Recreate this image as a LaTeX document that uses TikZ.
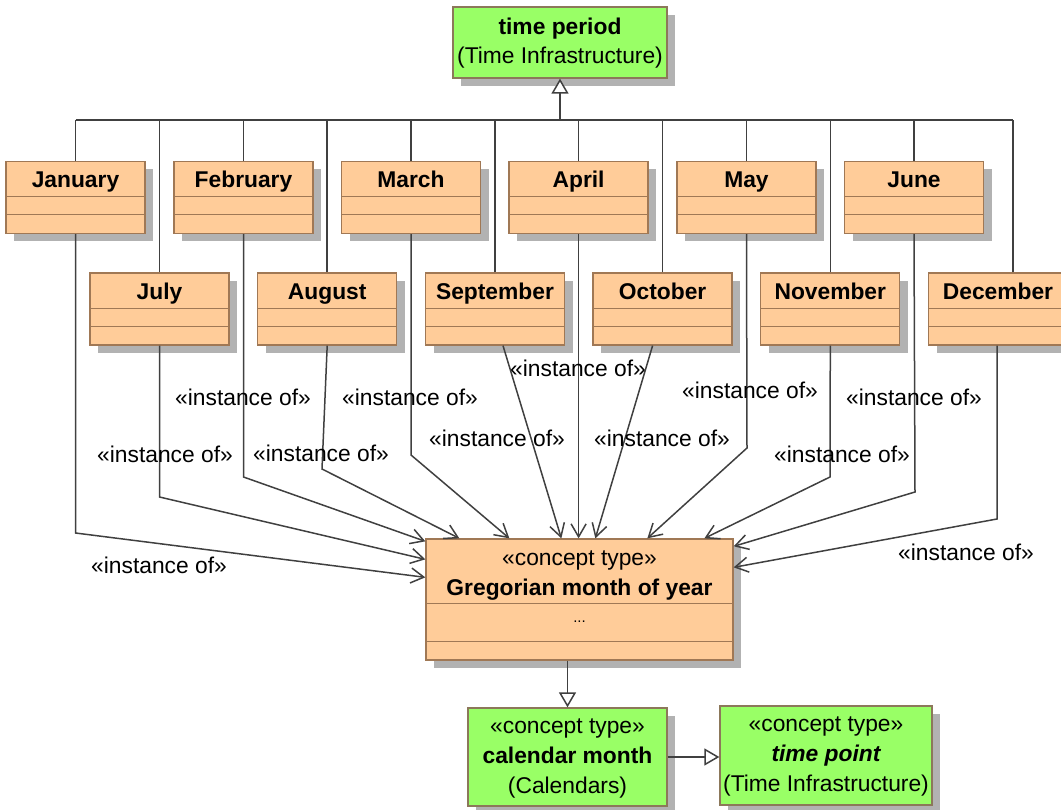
\documentclass[tikz,border=0pt]{standalone}
\usepackage{fontspec}
\setmainfont{Liberation Sans}
\usetikzlibrary{arrows.meta,shadows,calc}
\definecolor{orfill}{RGB}{255,204,153}
\definecolor{boxline}{RGB}{160,120,85}
\definecolor{grfill}{RGB}{153,255,102}
\definecolor{grline}{RGB}{140,120,90}
\definecolor{shade}{RGB}{178,178,178}
\definecolor{conn}{RGB}{64,64,64}
\tikzset{
 x=1pt,y=-1pt,
 sh/.style={drop shadow={shadow xshift=8pt,shadow yshift=-8pt,fill=shade,opacity=1}},
 monthbox/.style={draw=boxline,fill=orfill,line width=1.3pt,minimum width=139pt,minimum height=72pt,inner sep=0pt,sh},
 greenbox/.style={draw=grline,fill=grfill,line width=1.3pt,inner sep=0pt,sh},
 txt/.style={font=\fontsize{22.8pt}{27pt}\selectfont,inner sep=0pt,text height=19pt,text depth=2pt},
 btxt/.style={txt,font=\fontsize{22.8pt}{27pt}\selectfont\bfseries},
 bitxt/.style={txt,font=\fontsize{22.8pt}{27pt}\selectfont\bfseries\itshape},
 dots/.style={font=\fontsize{15pt}{18pt}\selectfont,inner sep=0pt},
 connline/.style={draw=conn,line width=1.5pt},
 inst/.style={connline,-{Straight Barb[length=13pt,width=15pt,line width=1.5pt]}},
 gen/.style={connline,-{Triangle[open,length=15pt,width=17pt,line width=1.5pt,fill=white]}},
 sepline/.style={draw=boxline,line width=1.3pt},
}
\newcommand\monthnode[4]{%
 \node[monthbox] (#1) at (#2,#3+36) {};
 \node[btxt] (#1-t) at (#2,#3+18) {#4};
 \draw[sepline] ($(#1.north west)+(0,36)$) -- ($(#1.north east)+(0,36)$);
 \draw[sepline] ($(#1.north west)+(0,54)$) -- ($(#1.north east)+(0,54)$);
}
\begin{document}
\begin{tikzpicture}
\useasboundingbox (0,0) rectangle (1061,810);
\clip (0,0) rectangle (1061,810);

% time period
\node[greenbox,minimum width=214pt,minimum height=71pt] (tp) at (560,42.5) {};
\node[btxt] (tp-a) at (560,26) {time period};
\node[txt] (tp-b) at (560,55) {(Time Infrastructure)};

% months
\monthnode{jan}{75.5}{161.5}{January}
\monthnode{feb}{243.5}{161.5}{February}
\monthnode{mar}{411}{161.5}{March}
\monthnode{apr}{578.6}{161.5}{April}
\monthnode{may}{746.5}{161.5}{May}
\monthnode{jun}{914}{161.5}{June}
\monthnode{jul}{159.5}{273}{July}
\monthnode{aug}{327.2}{273}{August}
\monthnode{sep}{495}{273}{September}
\monthnode{oct}{662.6}{273}{October}
\monthnode{nov}{830.3}{273}{November}
\monthnode{dec}{998}{273}{December}

% Gregorian month of year
\node[monthbox,minimum width=307pt,minimum height=121pt] (gmy) at (579.5,599.5) {};
\node[txt] (gmy-s) at (579.5,557) {«concept type»};
\node[btxt] (gmy-n) at (579.5,587) {Gregorian month of year};
\node[dots] (gmy-d) at (579.5,622) {...};
\draw[sepline] ($(gmy.north west)+(0,65)$) -- ($(gmy.north east)+(0,65)$);
\draw[sepline] ($(gmy.north west)+(0,103)$) -- ($(gmy.north east)+(0,103)$);

% calendar month
\node[greenbox,minimum width=199pt,minimum height=98pt] (cm) at (567.5,757) {};
\node[txt] (cm-s) at (567.5,725) {«concept type»};
\node[btxt] (cm-n) at (567.5,755) {calendar month};
\node[txt] (cm-p) at (567.5,785) {(Calendars)};

% time point
\node[greenbox,minimum width=212pt,minimum height=99pt] (tpt) at (826,755.5) {};
\node[txt] (tpt-s) at (826,723) {«concept type»};
\node[bitxt] (tpt-n) at (826,753) {time point};
\node[txt] (tpt-p) at (826,783) {(Time Infrastructure)};

% generalization tree to time period
\coordinate (bus) at (560,120);
\coordinate (decup) at ($(dec.north)+(15,0)$);
\foreach \m in {jan,feb,mar,apr,may,jun,jul,aug,sep,oct,nov}{
  \draw[connline] (\m.north) -- (\m.north |- bus);
}
\draw[connline] (decup) -- (decup |- bus);
\draw[connline] (jan.north |- bus) -- (decup |- bus);
\draw[gen] (bus) -- (tp.south);

% instance-of connectors
\draw[inst] (jan.south) -- (75.5,533) -- ($(gmy.north west)+(0,39)$);
\draw[inst] (jul.south) -- (159.5,497) -- ($(gmy.north west)+(0,21)$);
\draw[inst] (feb.south) -- (243.5,477) -- ($(gmy.north west)+(0,3)$);
\draw[inst] (aug.south) -- (322,469) -- ($(gmy.north west)+(34,0)$);
\draw[inst] (mar.south) -- (411,455) -- ($(gmy.north west)+(84,0)$);
\draw[inst] ($(sep.south)+(8,0)$) -- ($(gmy.north west)+(136,0)$);
\draw[inst] (apr.south) -- (apr.south |- gmy.north);
\draw[inst] ($(oct.south)+(-10,0)$) -- ($(gmy.north west)+(170,0)$);
\draw[inst] (may.south) -- (747,448) -- ($(gmy.north west)+(222,0)$);
\draw[inst] (nov.south) -- (830,477) -- ($(gmy.north west)+(279,0)$);
\draw[inst] (jun.south) -- (915,492) -- ($(gmy.north east)+(0,8)$);
\draw[inst] ($(dec.south)+(-1,0)$) -- (997,519) -- ($(gmy.north east)+(0,29)$);

% labels
\node[txt] (l-jan) at (159,565) {«instance of»};
\node[txt] (l-jul) at (165,454) {«instance of»};
\node[txt] (l-feb) at (243,397) {«instance of»};
\node[txt] (l-aug) at (321,453) {«instance of»};
\node[txt] (l-mar) at (410,397) {«instance of»};
\node[txt] (l-sep) at (497,438) {«instance of»};
\node[txt] (l-apr) at (578,368) {«instance of»};
\node[txt] (l-oct) at (662,438) {«instance of»};
\node[txt] (l-may) at (750,390) {«instance of»};
\node[txt] (l-nov) at (842,454) {«instance of»};
\node[txt] (l-jun) at (914,397) {«instance of»};
\node[txt] (l-dec) at (966,552) {«instance of»};

% generalizations at bottom
\draw[gen] (cm.north |- gmy.south) -- (cm.north);
\draw[gen] (cm.east) -- (cm.east -| tpt.west);
\end{tikzpicture}
\end{document}
